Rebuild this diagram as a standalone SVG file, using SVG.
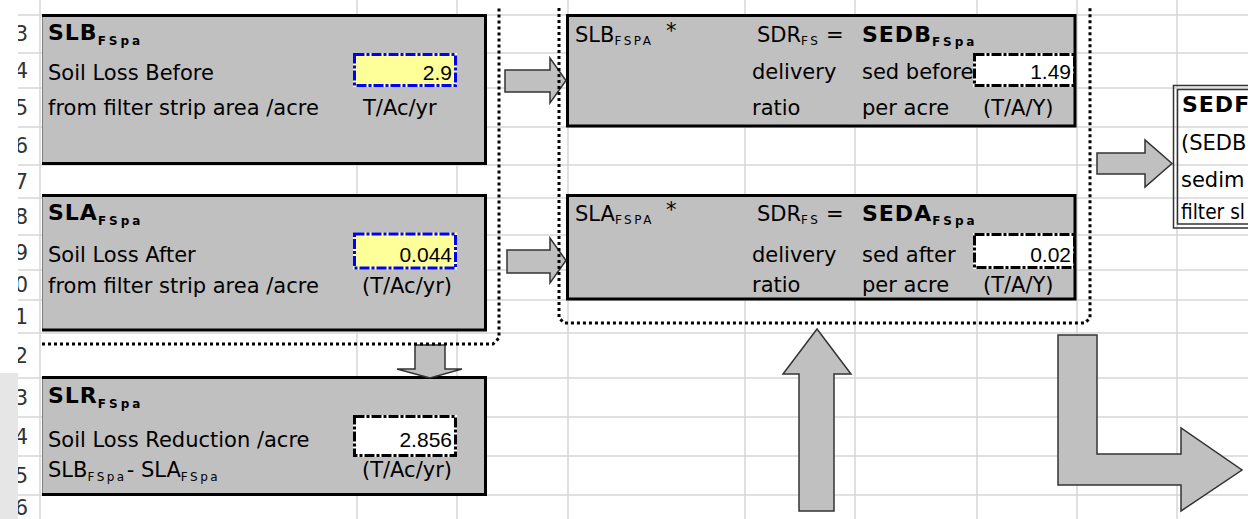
<svg xmlns="http://www.w3.org/2000/svg" width="1248" height="519" viewBox="0 0 1248 519">
<defs>
<style>
text{font-family:"DejaVu Sans","Liberation Sans",sans-serif;fill:#000}
.t{font-size:21px}
.h{font-size:22px;font-weight:bold;letter-spacing:1px}
.hs{font-size:12px;font-weight:bold;letter-spacing:3px}
.rs{font-size:12px;letter-spacing:2.5px}
.n{font-family:"Liberation Sans",sans-serif;font-size:21px;text-anchor:end}
.rn{font-size:21px;fill:#333;text-anchor:end}
.grid line{stroke:#d6d6d6;stroke-width:1.5}
.box{fill:#c0c0c0}
.edge{fill:none;stroke:#000;stroke-width:3}
.lft{stroke:#808080;stroke-width:1}
.inY{fill:#ffff99;stroke:#ffff99;stroke-width:3}
.inYd{fill:none;stroke:#0000ff;stroke-width:3;stroke-dasharray:10 2 3 2}
.inW{fill:#fff;stroke:#fff;stroke-width:3}
.inWd{fill:none;stroke:#000;stroke-width:3;stroke-dasharray:10 2 3 2}
.arrow{fill:#c0c0c0;stroke:#333;stroke-width:1.5}
.dots{fill:none;stroke:#000;stroke-width:3;stroke-dasharray:3 3}
.dbl{fill:none;stroke:#333;stroke-width:1.5}
</style>
<clipPath id="hdr"><rect x="18" y="0" width="22" height="519"/></clipPath>
</defs>

<rect width="1248" height="519" fill="#fff"/>

<!-- worksheet grid -->
<g class="grid">
<line x1="18" y1="15" x2="1248" y2="15"/>
<line x1="18" y1="53" x2="1248" y2="53"/>
<line x1="18" y1="88" x2="1248" y2="88"/>
<line x1="18" y1="127" x2="1248" y2="127"/>
<line x1="18" y1="165" x2="1248" y2="165"/>
<line x1="18" y1="198" x2="1248" y2="198"/>
<line x1="18" y1="235" x2="1248" y2="235"/>
<line x1="18" y1="270" x2="1248" y2="270"/>
<line x1="18" y1="300" x2="1248" y2="300"/>
<line x1="18" y1="333" x2="1248" y2="333"/>
<line x1="18" y1="378" x2="1248" y2="378"/>
<line x1="18" y1="417" x2="1248" y2="417"/>
<line x1="18" y1="456" x2="1248" y2="456"/>
<line x1="18" y1="495" x2="1248" y2="495"/>
<line x1="40" y1="0" x2="40" y2="519"/>
<line x1="357" y1="0" x2="357" y2="519"/>
<line x1="457" y1="0" x2="457" y2="519"/>
<line x1="568" y1="0" x2="568" y2="519"/>
<line x1="745" y1="0" x2="745" y2="519"/>
<line x1="855" y1="0" x2="855" y2="519"/>
<line x1="977" y1="0" x2="977" y2="519"/>
<line x1="1077" y1="0" x2="1077" y2="519"/>
<line x1="1177" y1="0" x2="1177" y2="519"/>
</g>

<!-- row headers -->
<rect x="0" y="373" width="18" height="146" fill="#e6e6e6"/>
<g clip-path="url(#hdr)">
<text class="rn" x="28" y="41">3</text>
<text class="rn" x="28" y="78">4</text>
<text class="rn" x="28" y="115">5</text>
<text class="rn" x="28" y="153">6</text>
<text class="rn" x="28" y="189">7</text>
<text class="rn" x="28" y="224">8</text>
<text class="rn" x="28" y="260">9</text>
<text class="rn" x="28" y="292">0</text>
<text class="rn" x="28" y="324">1</text>
<text class="rn" x="28" y="363">2</text>
<text class="rn" x="28" y="405">3</text>
<text class="rn" x="28" y="444">4</text>
<text class="rn" x="28" y="483">5</text>
<text class="rn" x="28" y="515">6</text>
</g>

<!-- soil loss before -->
<g id="slb">
<rect class="box" x="42" y="15.5" width="443.5" height="148"/>
<rect class="inY" x="354.5" y="54.5" width="101" height="31"/>
<rect class="inYd" x="354.5" y="54.5" width="101" height="31"/>
<line class="lft" x1="42.5" y1="15" x2="42.5" y2="164"/>
<path class="edge" d="M42,15.5H485.5V163.5H42"/>
<text class="h" x="48" y="40">SLB<tspan class="hs" dy="5">FSpa</tspan></text>
<text class="t" x="48" y="80">Soil Loss Before</text>
<text class="t" x="48" y="115">from filter strip area /acre</text>
<text class="t" x="363" y="115">T/Ac/yr</text>
<text class="n" x="452" y="80">2.9</text>
</g>

<!-- soil loss after -->
<g id="sla">
<rect class="box" x="42" y="195.5" width="443.5" height="134.5"/>
<rect class="inY" x="354.5" y="234" width="101" height="34"/>
<rect class="inYd" x="354.5" y="234" width="101" height="34"/>
<line class="lft" x1="42.5" y1="195" x2="42.5" y2="331"/>
<path class="edge" d="M42,195.5H485.5V330H42"/>
<text class="h" x="48" y="220">SLA<tspan class="hs" dy="5">FSpa</tspan></text>
<text class="t" x="48" y="262">Soil Loss After</text>
<text class="t" x="48" y="293">from filter strip area /acre</text>
<text class="t" x="362" y="293">(T/Ac/yr)</text>
<text class="n" x="452" y="262">0.044</text>
</g>

<!-- soil loss reduction -->
<g id="slr">
<rect class="box" x="42" y="377.5" width="443.5" height="117"/>
<rect class="inW" x="354.5" y="416.5" width="101" height="39"/>
<rect class="inWd" x="354.5" y="416.5" width="101" height="39"/>
<line class="lft" x1="42.5" y1="377" x2="42.5" y2="495"/>
<path class="edge" d="M42,377.5H485.5V494.5H42"/>
<text class="h" x="48" y="403">SLR<tspan class="hs" dy="5">FSpa</tspan></text>
<text class="t" x="48" y="447">Soil Loss Reduction /acre</text>
<text class="t" x="48" y="477">SLB<tspan class="rs" dy="4">FSpa</tspan><tspan dy="-4">- SLA</tspan><tspan class="rs" dy="4">FSpa</tspan></text>
<text class="t" x="362" y="477">(T/Ac/yr)</text>
<text class="n" x="452" y="447">2.856</text>
</g>

<!-- sediment before -->
<g id="sedb">
<rect class="box" x="567.5" y="15.5" width="507.5" height="110.5"/>
<rect class="inW" x="974.5" y="54.5" width="100" height="31"/>
<rect class="inWd" x="974.5" y="54.5" width="100" height="31"/>
<rect class="edge" x="567.5" y="15.5" width="507.5" height="110.5"/>
<text class="t" x="575" y="42">SLB<tspan class="rs" dy="3">FSPA</tspan></text>
<text class="t" x="666" y="38" font-size="14">*</text>
<text class="t" x="757" y="42">SDR<tspan class="rs" dy="3">FS</tspan></text>
<text class="t" x="826" y="42">=</text>
<text class="h" x="862" y="42">SEDB<tspan class="hs" dy="4">FSpa</tspan></text>
<text class="t" x="752" y="79">delivery</text>
<text class="t" x="862" y="79">sed before</text>
<text class="n" x="1071" y="79">1.49</text>
<text class="t" x="752" y="115">ratio</text>
<text class="t" x="862" y="115">per acre</text>
<text class="t" x="983" y="115">(T/A/Y)</text>
</g>

<!-- sediment after -->
<g id="seda">
<rect class="box" x="567.5" y="195.5" width="507.5" height="103.5"/>
<rect class="inW" x="974.5" y="234.5" width="100" height="33"/>
<rect class="inWd" x="974.5" y="234.5" width="100" height="33"/>
<rect class="edge" x="567.5" y="195.5" width="507.5" height="103.5"/>
<text class="t" x="575" y="221">SLA<tspan class="rs" dy="3">FSPA</tspan></text>
<text class="t" x="666" y="217" font-size="14">*</text>
<text class="t" x="757" y="221">SDR<tspan class="rs" dy="3">FS</tspan></text>
<text class="t" x="826" y="221">=</text>
<text class="h" x="862" y="221">SEDA<tspan class="hs" dy="4">FSpa</tspan></text>
<text class="t" x="752" y="262">delivery</text>
<text class="t" x="862" y="262">sed after</text>
<text class="n" x="1071" y="262">0.02</text>
<text class="t" x="752" y="292">ratio</text>
<text class="t" x="862" y="292">per acre</text>
<text class="t" x="983" y="292">(T/A/Y)</text>
</g>

<!-- sediment reduction (runs off the sheet edge) -->
<g id="sedr">
<rect x="1173.5" y="85.5" width="90" height="142.5" fill="#c0c0c0" class="dbl"/>
<rect class="dbl" x="1177.5" y="89.5" width="90" height="134.5"/>
<text class="h" x="1182" y="112">SEDF</text>
<text class="t" x="1181" y="150">(SEDB</text>
<text class="t" x="1181" y="187">sedim</text>
<text class="t" x="1181" y="219" textLength="64" lengthAdjust="spacingAndGlyphs">filter sl</text>
</g>

<!-- flow arrows -->
<g id="connectors">
<polygon class="arrow" points="505,70 550,70 550,58 566,80.5 550,103 550,92 505,92"/>
<polygon class="arrow" points="507,250 550,250 550,238 566,260.5 550,283 550,273 507,273"/>
<polygon class="arrow" points="415,345 445,345 445,369 462,369 430,378 397,369 415,369"/>
<polygon class="arrow" points="817,329 851,374 834,374 834,511 799,511 799,374 783,374"/>
<polygon class="arrow" points="1097,153 1145,153 1145,140 1172,163.5 1145,187 1145,174 1097,174"/>
<polygon class="arrow" points="1058,335 1097,335 1097,454 1181,454 1181,428 1242,470 1181,511 1181,485 1058,485"/>
</g>

<!-- dotted group outlines -->
<g id="groups">
<path class="dots" d="M42,344H493L499,338V8"/>
<path class="dots" d="M559,8V318L564,323H1085L1090,318V8"/>
</g>
</svg>
